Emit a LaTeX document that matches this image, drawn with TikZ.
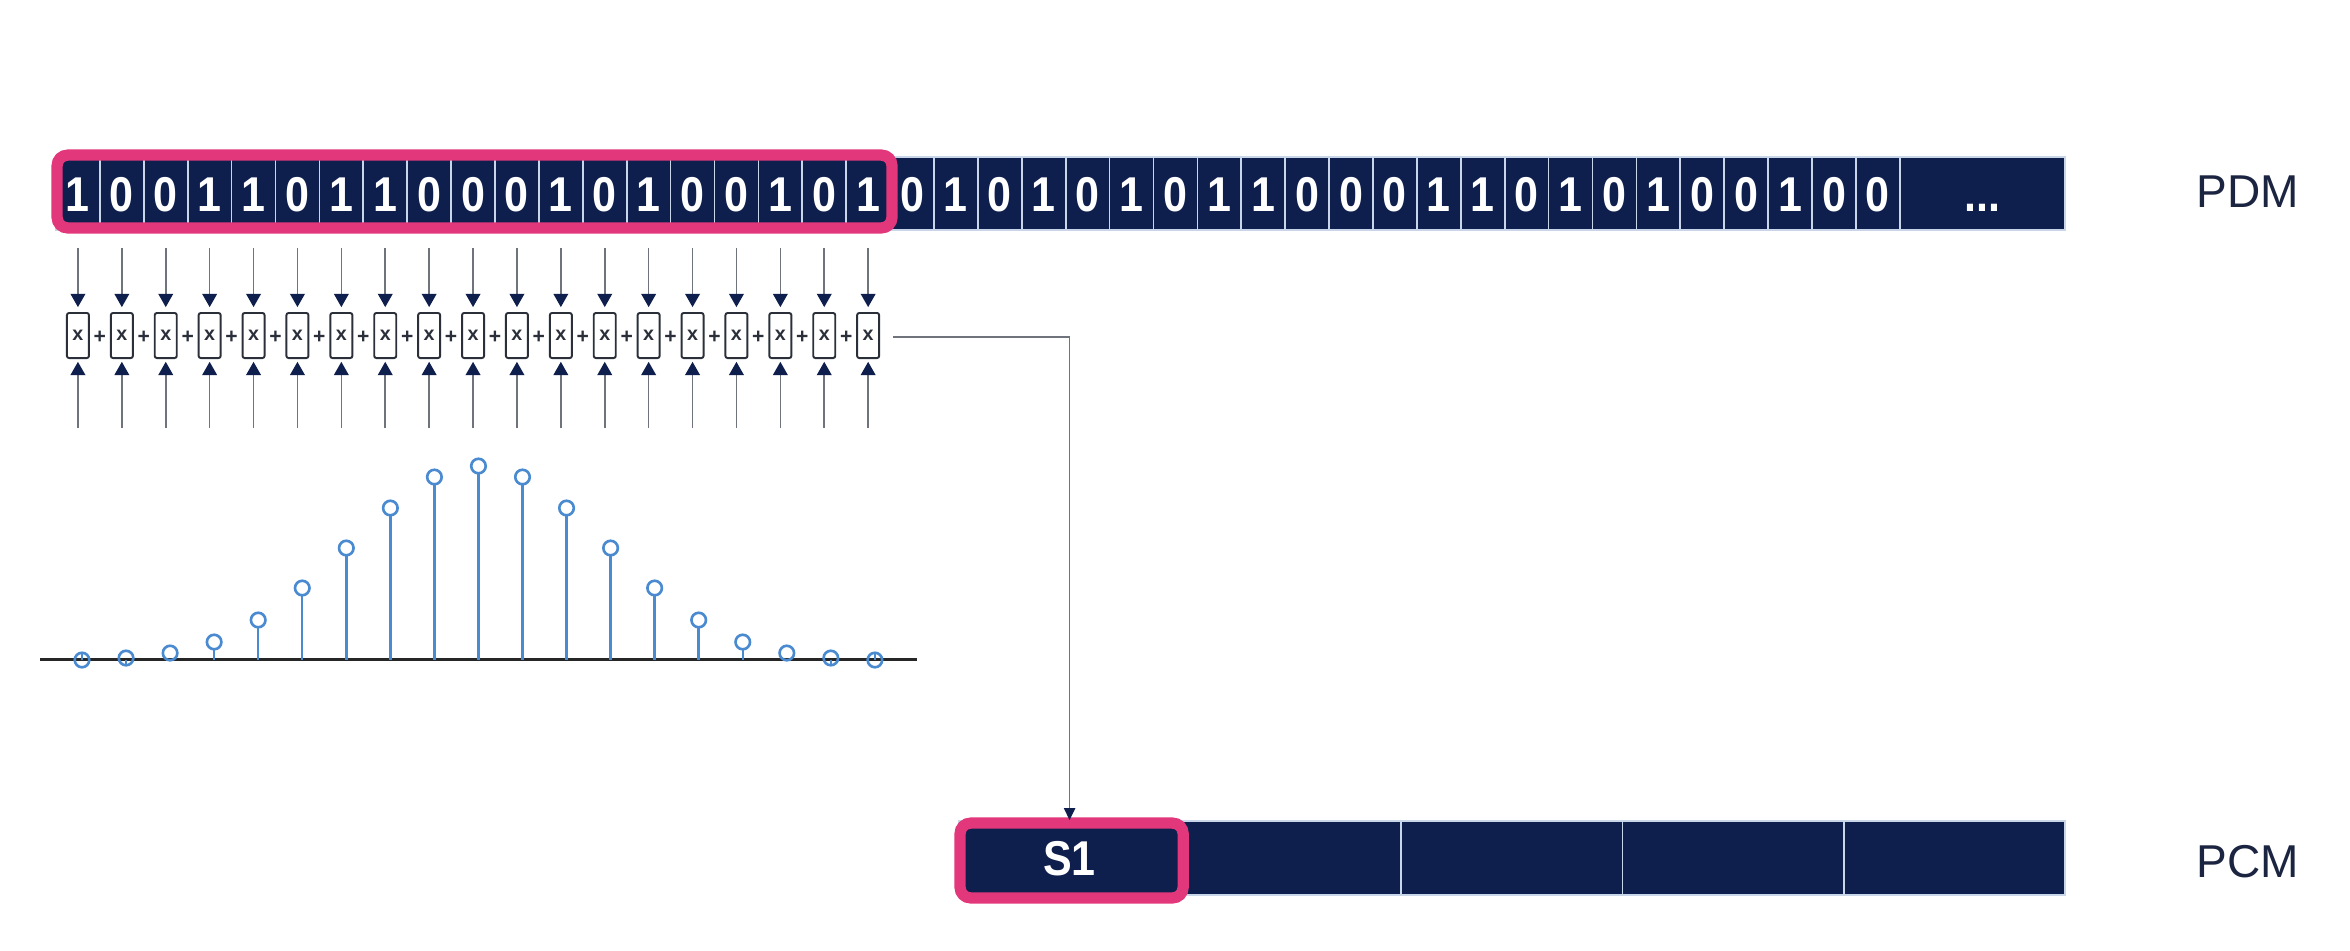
\documentclass[tikz,border=0pt]{standalone}
\usepackage{fontspec}
\setmainfont{Liberation Sans}
\newfontfamily\bitfont[FakeStretch=0.88]{Liberation Sans}
\usetikzlibrary{arrows.meta,calc}
\definecolor{navy}{HTML}{0F1F4D}
\definecolor{pinkc}{HTML}{E2377B}
\definecolor{sepc}{HTML}{C9D6EA}
\definecolor{grayl}{HTML}{6E737C}
\definecolor{stemblue}{HTML}{4A8AD0}
\definecolor{labelc}{HTML}{1B2440}
\definecolor{boxc}{HTML}{2A2F3A}
\begin{document}
\begin{tikzpicture}[x=0.01cm,y=-0.01cm,
  bitcell/.style={fill=navy,draw=sepc,line width=0.5pt,inner sep=0pt,
    minimum width=0.439cm,minimum height=0.73cm,text height=0.35cm,text depth=0pt,
    text=white,font=\bitfont\bfseries\fontsize{13.9}{14}\selectfont},
  dotcell/.style={bitcell,minimum width=1.65cm},
  pcmcell/.style={bitcell,minimum width=2.212cm,minimum height=0.74cm},
  hilite/.style={draw=pinkc,line width=3.2pt,rounded corners=3pt},
  mulbox/.style={draw=boxc,line width=0.55pt,rounded corners=0.6pt,inner sep=0pt,
    minimum width=0.22cm,minimum height=0.45cm,font=\bfseries\fontsize{5.6}{6}\selectfont,text=boxc},
  plussign/.style={inner sep=0pt,font=\bfseries\fontsize{6}{7}\selectfont,text=boxc},
  garrow/.style={draw=grayl,line width=0.45pt,-{Triangle[length=3.8pt,width=4.2pt,color=navy]}},
  conn/.style={draw=grayl,line width=0.45pt,-{Triangle[length=3.4pt,width=3.2pt,color=navy]}},
  stemline/.style={draw=stemblue,line width=0.7pt},
  stemcirc/.style={circle,draw=stemblue,line width=0.75pt,inner sep=0pt,minimum size=0.145cm},
  axisline/.style={draw=black!85,line width=0.85pt},
  sidelabel/.style={anchor=base,text=labelc,font=\fontsize{13.1}{14}\selectfont}
]
\useasboundingbox (0,0) rectangle (2350,950);

% PDM bits
\foreach \b [count=\i from 0] in {1,0,0,1,1,0,1,1,0,0,0,1,0,1,0,0,1,0,1,
  0,1,0,1,0,1,0,1,1,0,0,0,1,1,0,1,0,1,0,0,1,0,0} {
  \node[bitcell] (b\i) at ({56+43.9*(\i+0.5)},193.5) {\b};
}
\node[dotcell] (bdots) at (1982.4,193.5) {...};
\draw[hilite] ($(b0.north west)+(2,-1)$) rectangle ($(b18.south east)+(1,-3)$);

% multipliers
\foreach \i in {0,...,18} {
  \pgfmathsetmacro{\xx}{56+43.9*(\i+0.5)}
  \node[mulbox] (m\i) at (\xx,335.5) {x};
  \coordinate (t\i) at (\xx,248);
  \coordinate (u\i) at (\xx,428);
  \draw[garrow,shorten >=1.4pt] (t\i) -- (m\i.north);
  \draw[garrow,shorten >=0.8pt] (u\i) -- (m\i.south);
}
\foreach \i in {0,...,17} {
  \node[plussign] (p\i) at ({56+43.9*(\i+1)},337) {+};
}

% filter coefficients
\coordinate (axL) at (40,659.5);
\coordinate (axR) at (917,659.5);
\draw[axisline] (axL) -- (axR);
\foreach \h [count=\i from 0] in {0,2,7,18,40,72,112,152,183,194,183,152,112,72,40,18,7,2,0} {
  \pgfmathsetmacro{\xx}{82+44.05*\i}
  \coordinate (s\i) at (\xx,659.5);
  \node[stemcirc] (c\i) at (\xx,{660-\h}) {};
  \draw[stemline,shorten >=2pt] (s\i) -- (c\i.center);
}

% PCM
\node[pcmcell] (pc0) at (1069.6,858) {S1};
\foreach \i in {1,...,4} {
  \node[pcmcell] (pc\i) at ({959+221.2*(\i+0.5)},858) {};
}
\draw[hilite] ($(pc0.north west)+(2,3)$) rectangle ($(pc0.south east)+(2,2)$);

% connector
\coordinate (o) at (893,337);
\draw[conn] (o) -| (pc0.north);

% labels
\node[sidelabel] (pdm) at (2248,207) {PDM};
\node[sidelabel] (pcm) at (2248,877) {PCM};
\end{tikzpicture}
\end{document}
